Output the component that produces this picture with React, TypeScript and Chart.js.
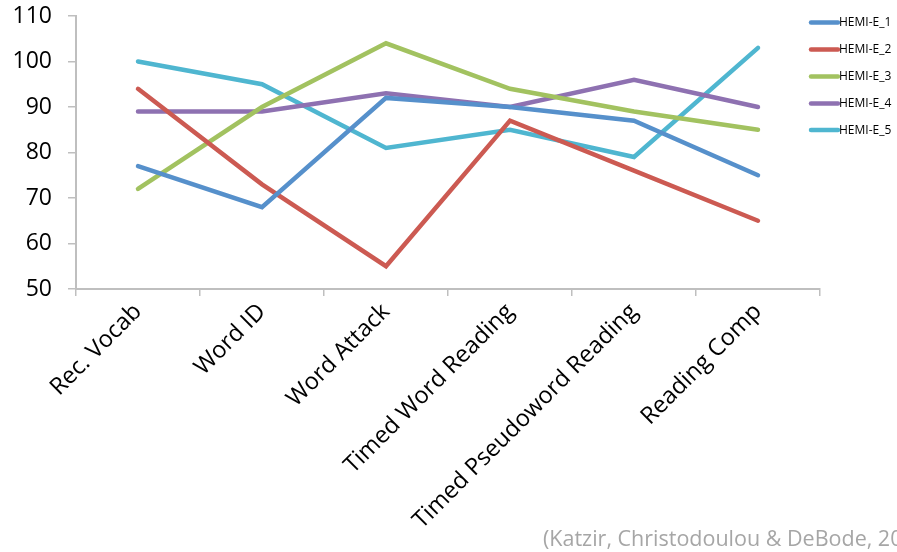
import React, { useEffect, useRef } from 'react';
import { Chart, registerables } from 'chart.js';
Chart.register(...registerables);

const categories = ['Rec. Vocab', 'Word ID', 'Word Attack', 'Timed Word Reading', 'Timed Pseudoword Reading', 'Reading Comp'];
const seriesNames = ['HEMI-E_1', 'HEMI-E_2', 'HEMI-E_3', 'HEMI-E_4', 'HEMI-E_5'];
const hemiE1 = [77, 68, 92, 90, 87, 75];
const hemiE2 = [94, 73, 55, 87, 76, 65];
const hemiE3 = [72, 90, 104, 94, 89, 85];
const hemiE4 = [89, 89, 93, 90, 96, 90];
const hemiE5 = [100, 95, 81, 85, 79, 103];
const seriesColors = ['#5690CB', '#CC5A52', '#A2C260', '#8E71B1', '#4FB6D0'];
const citation = '(Katzir, Christodoulou & DeBode, 2009)';

const FONT = "'Open Sans', 'Liberation Sans', sans-serif";

export default function App() {
  const ref = useRef<HTMLCanvasElement | null>(null);
  useEffect(() => {
    if (!ref.current) return;
    const values = [hemiE1, hemiE2, hemiE3, hemiE4, hemiE5];
    const overlay = {
      id: 'overlay',
      afterDraw(chart: any) {
        const ctx = chart.ctx;
        ctx.save();
        const ys = [22.5, 49.5, 76.5, 103.5, 130];
        seriesNames.forEach((n, i) => {
          ctx.strokeStyle = seriesColors[i];
          ctx.lineWidth = 4.5;
          ctx.lineCap = 'round';
          ctx.beginPath();
          ctx.moveTo(811, ys[i]);
          ctx.lineTo(838, ys[i]);
          ctx.stroke();
          ctx.fillStyle = '#000';
          ctx.font = `12px ${FONT}`;
          ctx.textBaseline = 'middle';
          ctx.textAlign = 'left';
          ctx.fillText(n, 839, ys[i] + 0.5);
        });
        ctx.fillStyle = '#a6a6a6';
        ctx.font = `21.5px ${FONT}`;
        ctx.textBaseline = 'alphabetic';
        ctx.fillText(citation, 543, 546);
        ctx.restore();
      },
    };
    const chart = new Chart(ref.current, {
      type: 'line',
      data: {
        labels: categories,
        datasets: seriesNames.map((n, i) => ({
          label: n,
          data: values[i],
          borderColor: seriesColors[i],
          backgroundColor: seriesColors[i],
          borderWidth: 4.5,
          pointRadius: 0,
          borderCapStyle: 'round' as const,
          tension: 0,
        })),
      },
      options: {
        animation: false,
        responsive: true,
        maintainAspectRatio: false,
        layout: { padding: { top: 16, right: 77, bottom: 0, left: 0 } },
        plugins: { legend: { display: false }, tooltip: { enabled: false } },
        scales: {
          x: {
            offset: true,
            grid: { offset: true, drawOnChartArea: false, drawTicks: true, tickLength: 7, color: '#bfbfbf', lineWidth: 1.5 },
            border: { color: '#bfbfbf', width: 2 },
            ticks: { color: '#000', font: { family: FONT, size: 23.5 }, minRotation: 45, maxRotation: 45, padding: 2, autoSkip: false },
            afterFit(scale: any) { scale.height = 263; scale.paddingLeft = 0; scale.paddingRight = 0; },
          },
          y: {
            min: 50,
            max: 110,
            grid: { drawOnChartArea: false, drawTicks: true, tickLength: 8, color: '#bfbfbf', lineWidth: 1.5 },
            border: { color: '#bfbfbf', width: 2 },
            ticks: { stepSize: 10, color: '#000', font: { family: FONT, size: 23 }, padding: 16 },
            afterFit(scale: any) { scale.width = 76; scale.paddingTop = 0; scale.paddingBottom = 0; },
          },
        },
      },
      plugins: [overlay],
    });
    return () => chart.destroy();
  }, []);
  return (
    <div style={{ position: 'fixed', left: 0, top: 0, width: 897, height: 552, background: '#fff' }}>
      <canvas ref={ref} />
    </div>
  );
}
